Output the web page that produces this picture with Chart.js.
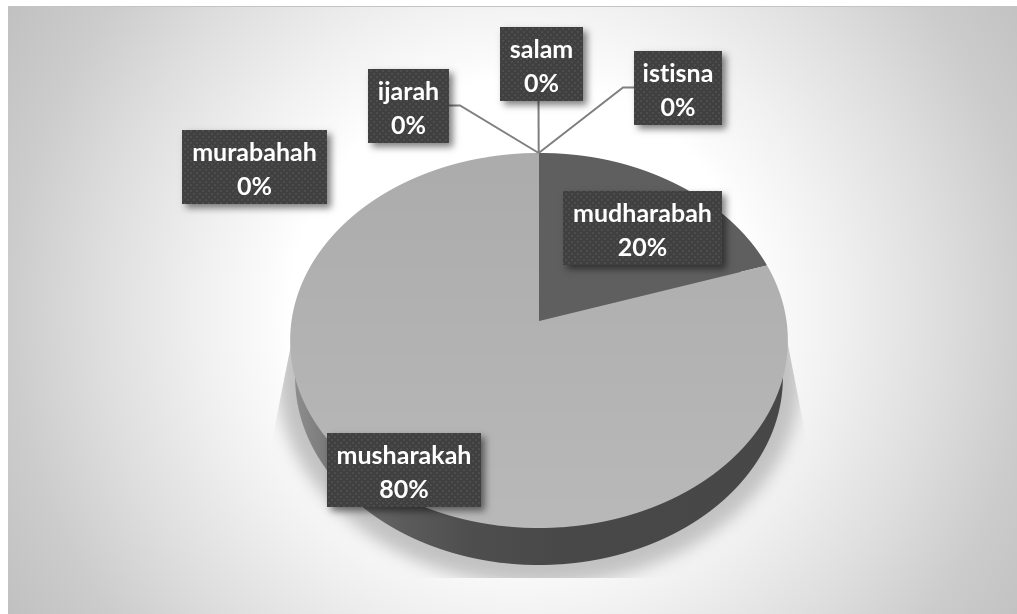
<!DOCTYPE html>
<html><head><meta charset="utf-8">
<style>html,body{margin:0;padding:0;background:#fff}#w{position:absolute;left:0;top:0;width:1017px;height:614px}</style>
<script src="https://cdn.jsdelivr.net/npm/chart.js@4"></script>
</head><body><div id="w"><canvas id="c" width="1017" height="614"></canvas></div>
<script>
const categories = ['mudharabah','musharakah','murabahah','ijarah','salam','istisna'];
const seriesValues = [20,80,0,0,0,0];
const sliceColors = ['#5f5f5f','#b2b2b2','#8a8a8a','#8a8a8a','#8a8a8a','#8a8a8a'];

// projection of the flat pie onto the tilted disc
const persp = {cx:539, cy:321, a:247.5, b:185.5, k:-0.104, top:153, bottom:528, depth:37, sideScale:.98};
const boxes = {
  mudharabah:{l:563,t:191,r:722,b:265},
  musharakah:{l:327,t:433,r:481,b:507},
  murabahah:{l:182,t:130,r:327,b:204},
  ijarah:{l:368,t:69,r:449,b:143},
  salam:{l:500,t:27,r:583,b:101},
  istisna:{l:634,t:51,r:722,b:125}
};
const leaders = {
  ijarah:[[449,105.5],[460,105.5]],
  salam:[[538.5,101]],
  istisna:[[634,87.5],[623,87.5]]
};
const FONT = 'bold 25px Lato';

function drawDisc(chart, ctx, dy, xs, styleFor){
  const arcs = chart.getDatasetMeta(0).data;
  const p = persp, s = arcs[0];
  const R = s.outerRadius, sx0 = s.x, sy0 = s.y;
  for(let Y=p.top; Y<p.bottom+1; Y++){
    const t0=Y-p.cy, t1=Y+1-p.cy;
    const v0=t0/(p.b-p.k*t0), v1=t1/(p.b-p.k*t1);
    const vm=(v0+v1)/2;
    const scx=xs*p.a/(1+p.k*vm)/R;
    const scy=1/((v1-v0)*R);
    ctx.save();
    ctx.beginPath(); ctx.rect(0,Y+dy,1017,1); ctx.clip();
    ctx.transform(scx,0,0,scy,p.cx-sx0*scx,(Y+dy)-(sy0+v0*R)*scy);
    arcs.forEach((arc,i)=>{
      if(seriesValues[i]===0) return;
      const saved=arc.options.backgroundColor, sb=arc.options.borderColor;
      arc.options.backgroundColor=styleFor(ctx,i,Y,scx,sx0,saved);
      arc.options.borderColor='rgba(0,0,0,0)';
      arc.draw(ctx);
      arc.options.backgroundColor=saved; arc.options.borderColor=sb;
    });
    ctx.restore();
  }
}
function shade(hex,d){
  const g=Math.round(parseInt(hex.slice(1,3),16)+d);
  return 'rgb('+g+','+g+','+g+')';
}
const sideStops=[[290,'#909090'],[340,'#727272'],[400,'#5c5c5c'],[470,'#4e4e4e'],[560,'#484848'],[790,'#474747']];

const tilted = {
  id:'tilted',
  beforeDraw(chart){
    const ctx=chart.ctx;
    ctx.save();
    ctx.fillStyle='#fff'; ctx.fillRect(0,0,1017,614);
    const g=ctx.createRadialGradient(520,310,0,520,310,600);
    [[0,'#ffffff'],[.383,'#ffffff'],[.417,'#fbfbfb'],[.533,'#f0f0f0'],[.7,'#dedede'],[.85,'#cccccc'],[1,'#c0c0c0']]
      .forEach(([o,c])=>g.addColorStop(o,c));
    ctx.fillStyle=g;
    ctx.fillRect(8,7,1009,607);
    ctx.fillStyle='#c4c4c4'; ctx.fillRect(8,6,1009,1);
    ctx.restore();
  },
  beforeDatasetsDraw(chart){
    const ctx=chart.ctx, p=persp;
    // soft floor shadow
    ctx.save();
    ctx.beginPath();
    ctx.moveTo(292,340); ctx.lineTo(787,340); ctx.lineTo(830,560); ctx.lineTo(830,578); ctx.lineTo(248,578); ctx.lineTo(248,560); ctx.closePath();
    ctx.clip();
    ctx.filter='blur(8px)';
    ctx.fillStyle='#c2c2c2';
    ctx.beginPath(); ctx.ellipse(539,377,262,208,0,0,Math.PI*2); ctx.fill();
    ctx.restore();
    // side wall
    drawDisc(chart,ctx,p.depth,p.sideScale,(c,i,Y,scx,sx0)=>{
      const toSrc=x=>sx0+(x-p.cx)/scx;
      const g=c.createLinearGradient(toSrc(290),0,toSrc(790),0);
      sideStops.forEach(([x,col])=>g.addColorStop((x-290)/500,col));
      return g;
    });
    // top surface
    drawDisc(chart,ctx,0,1,(c,i,Y,scx,sx0,base)=>i===1?shade(base,(Y-340)*.035):base);
    return false;
  },
  afterDraw(chart){
    const ctx=chart.ctx,p=persp;
    // leader lines
    ctx.save();
    ctx.strokeStyle='#7f7f7f'; ctx.lineWidth=2;
    Object.values(leaders).forEach(pts=>{
      ctx.beginPath();
      pts.forEach((q,i)=>i?ctx.lineTo(q[0],q[1]):ctx.moveTo(q[0],q[1]));
      ctx.lineTo(538.7,153);
      ctx.stroke();
    });
    ctx.restore();
    // dotted tile
    const tile=document.createElement('canvas'); tile.width=6; tile.height=6;
    const tc=tile.getContext('2d');
    tc.fillStyle='#404040'; tc.fillRect(0,0,6,6);
    tc.fillStyle='#4d4d4d'; tc.fillRect(1,1,2,2); tc.fillRect(4,4,2,2);
    const pat=ctx.createPattern(tile,'repeat');
    const total=seriesValues.reduce((a,b)=>a+b,0);
    categories.forEach((name,i)=>{
      const b=boxes[name];
      ctx.save();
      ctx.shadowColor='rgba(0,0,0,.5)'; ctx.shadowBlur=7; ctx.shadowOffsetX=4; ctx.shadowOffsetY=4;
      ctx.fillStyle='#404040'; ctx.fillRect(b.l,b.t,b.r-b.l,b.b-b.t);
      ctx.restore();
      ctx.save();
      ctx.fillStyle=pat; ctx.fillRect(b.l,b.t,b.r-b.l,b.b-b.t);
      ctx.fillStyle='#fff'; ctx.font=FONT; ctx.textAlign='center'; ctx.textBaseline='alphabetic';
      ctx.letterSpacing='0.01px';
      const mx=(b.l+b.r)/2;
      ctx.fillText(name,mx,b.t+31);
      ctx.fillText(Math.round(seriesValues[i]/total*100)+'%',mx,b.t+65);
      ctx.restore();
    });
  }
};
new Chart(document.getElementById('c'),{
  type:'pie',
  data:{labels:categories,datasets:[{data:seriesValues,backgroundColor:sliceColors,borderWidth:0}]},
  options:{responsive:false,animation:false,events:[],rotation:0,
    plugins:{legend:{display:false},tooltip:{enabled:false}}},
  plugins:[tilted]
});
</script></body></html>
